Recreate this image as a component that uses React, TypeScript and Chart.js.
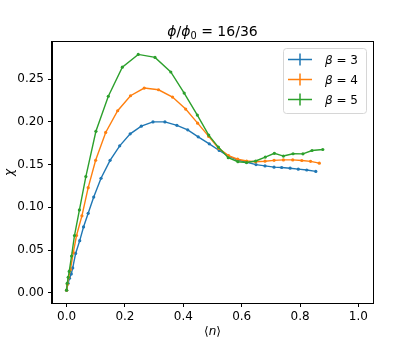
import React, { useEffect, useRef } from 'react';
import { Chart, registerables } from 'chart.js';

Chart.register(...registerables);

// ---- data ----
const beta3X = [0, 0.005, 0.01, 0.016, 0.021, 0.031, 0.045, 0.058, 0.074, 0.093, 0.118, 0.149, 0.182, 0.218, 0.256, 0.296, 0.337, 0.378, 0.415, 0.451, 0.489, 0.523, 0.554, 0.585, 0.615, 0.649, 0.68, 0.711, 0.737, 0.766, 0.794, 0.823, 0.854];
const beta3Y = [0.003, 0.011, 0.017, 0.022, 0.029, 0.046, 0.061, 0.077, 0.093, 0.112, 0.134, 0.155, 0.172, 0.186, 0.195, 0.2, 0.2, 0.196, 0.1907, 0.1825, 0.1743, 0.1665, 0.16, 0.1556, 0.153, 0.15, 0.1485, 0.147, 0.1466, 0.1458, 0.1447, 0.1437, 0.142];

const beta4X = [0, 0.003, 0.007, 0.013, 0.023, 0.034, 0.0525, 0.074, 0.0995, 0.134, 0.175, 0.219, 0.266, 0.315, 0.363, 0.408, 0.449, 0.487, 0.521, 0.555, 0.586, 0.617, 0.648, 0.68, 0.711, 0.743, 0.775, 0.806, 0.836, 0.866];
const beta4Y = [0.003, 0.01, 0.018, 0.027, 0.047, 0.067, 0.09, 0.123, 0.155, 0.1876, 0.213, 0.2306, 0.2396, 0.2376, 0.229, 0.215, 0.1985, 0.183, 0.169, 0.1605, 0.1563, 0.1542, 0.1533, 0.154, 0.155, 0.1555, 0.1555, 0.1548, 0.1538, 0.1517];

const beta5X = [0, 0.002, 0.0055, 0.009, 0.017, 0.027, 0.044, 0.066, 0.1005, 0.143, 0.191, 0.2456, 0.303, 0.357, 0.403, 0.448, 0.487, 0.52, 0.554, 0.587, 0.617, 0.648, 0.681, 0.712, 0.743, 0.776, 0.81, 0.841, 0.878];
const beta5Y = [0.003, 0.011, 0.018, 0.025, 0.043, 0.067, 0.097, 0.136, 0.189, 0.23, 0.264, 0.279, 0.2755, 0.2584, 0.2337, 0.208, 0.1845, 0.1705, 0.158, 0.1534, 0.1524, 0.1542, 0.1588, 0.1632, 0.16, 0.1627, 0.1626, 0.1665, 0.1677];

const betaLabels = ['3', '4', '5'];
const seriesColors = ['#1f77b4', '#ff7f0e', '#2ca02c'];
const xTickValues = [0, 0.2, 0.4, 0.6, 0.8, 1.0];
const yTickValues = [0, 0.05, 0.1, 0.15, 0.2, 0.25];

const FONT = "'DejaVu Sans', sans-serif";

type Seg = { t: string; it?: boolean; sub?: boolean };

function segFont(s: Seg, size: number) {
  return `${s.it ? 'italic ' : ''}${s.sub ? size * 0.7 : size}px ${FONT}`;
}

function richWidth(ctx: CanvasRenderingContext2D, segs: Seg[], size: number) {
  let w = 0;
  for (const s of segs) {
    ctx.font = segFont(s, size);
    w += ctx.measureText(s.t).width;
  }
  return w;
}

function drawRich(ctx: CanvasRenderingContext2D, segs: Seg[], x: number, y: number, size: number, align: 'left' | 'center') {
  const w = richWidth(ctx, segs, size);
  let cx = align === 'center' ? x - w / 2 : x;
  ctx.textAlign = 'left';
  ctx.textBaseline = 'alphabetic';
  for (const s of segs) {
    ctx.font = segFont(s, size);
    ctx.fillText(s.t, cx, s.sub ? y + size * 0.22 : y);
    cx += ctx.measureText(s.t).width;
  }
}

const decorPlugin = {
  id: 'decor',
  afterDraw(chart: any) {
    const ctx: CanvasRenderingContext2D = chart.ctx;
    const a = chart.chartArea;
    ctx.save();
    // frame
    ctx.strokeStyle = '#000';
    ctx.lineWidth = 1;
    ctx.strokeRect(Math.round(a.left) - 0.5, Math.round(a.top) - 0.5, Math.round(a.right - a.left) + 1, Math.round(a.bottom - a.top) + 1);
    ctx.fillStyle = '#000';
    // title
    drawRich(ctx, [
      { t: 'ϕ', it: true }, { t: '/' }, { t: 'ϕ', it: true }, { t: '0', sub: true }, { t: ' = 16/36' },
    ], (a.left + a.right) / 2, 35.5, 14, 'center');
    // x label
    drawRich(ctx, [{ t: '⟨' }, { t: 'n', it: true }, { t: '⟩' }], (a.left + a.right) / 2, 335, 12, 'center');
    // y label
    ctx.save();
    ctx.translate(13, (a.top + a.bottom) / 2);
    ctx.rotate(-Math.PI / 2);
    drawRich(ctx, [{ t: 'χ', it: true }], 0, 0, 12, 'center');
    ctx.restore();
    // legend
    const bx = 283.5, by = 48.5, bw = 83, bh = 65, r = 3;
    ctx.beginPath();
    ctx.moveTo(bx + r, by);
    ctx.lineTo(bx + bw - r, by);
    ctx.quadraticCurveTo(bx + bw, by, bx + bw, by + r);
    ctx.lineTo(bx + bw, by + bh - r);
    ctx.quadraticCurveTo(bx + bw, by + bh, bx + bw - r, by + bh);
    ctx.lineTo(bx + r, by + bh);
    ctx.quadraticCurveTo(bx, by + bh, bx, by + bh - r);
    ctx.lineTo(bx, by + r);
    ctx.quadraticCurveTo(bx, by, bx + r, by);
    ctx.closePath();
    ctx.fillStyle = 'rgba(255,255,255,0.8)';
    ctx.fill();
    ctx.strokeStyle = '#d6d6d6';
    ctx.lineWidth = 1;
    ctx.stroke();
    for (let i = 0; i < betaLabels.length; i++) {
      const cy = 59.5 + i * 20;
      ctx.strokeStyle = seriesColors[i];
      ctx.lineWidth = 1.5;
      ctx.beginPath();
      ctx.moveTo(288, cy);
      ctx.lineTo(312, cy);
      ctx.moveTo(300, cy - 6);
      ctx.lineTo(300, cy + 6);
      ctx.stroke();
      ctx.fillStyle = '#000';
      drawRich(ctx, [{ t: 'β', it: true }, { t: ' = ' + betaLabels[i] }], 325, cy + 4.5, 12, 'left');
    }
    ctx.restore();
  },
};

function toPoints(xs: number[], ys: number[]) {
  return xs.map((x, i) => ({ x, y: ys[i] }));
}

export default function App() {
  const ref = useRef<HTMLCanvasElement | null>(null);
  useEffect(() => {
    if (!ref.current) return;
    const series = [
      toPoints(beta3X, beta3Y),
      toPoints(beta4X, beta4Y),
      toPoints(beta5X, beta5Y),
    ];
    const chart = new Chart(ref.current, {
      type: 'scatter',
      data: {
        datasets: series.map((pts, i) => ({
          label: 'β = ' + betaLabels[i],
          data: pts,
          showLine: true,
          borderColor: seriesColors[i],
          backgroundColor: seriesColors[i],
          borderWidth: 1.4,
          pointRadius: 1.6,
          pointBorderWidth: 0,
          pointHoverRadius: 0,
          order: 2 - i,
        })),
      },
      options: {
        animation: false,
        responsive: false,
        devicePixelRatio: 1,
        events: [],
        layout: { padding: { left: 0, top: 42, right: 42, bottom: 0 } },
        plugins: { legend: { display: false }, title: { display: false }, tooltip: { enabled: false } },
        scales: {
          x: {
            type: 'linear',
            min: -0.05,
            max: 1.05,
            afterBuildTicks: (s: any) => { s.ticks = xTickValues.map((v) => ({ value: v })); },
            afterFit: (s: any) => { s.height = 43; },
            grid: { display: true, drawOnChartArea: false, drawTicks: true, tickLength: 4, color: '#000', tickWidth: 1 },
            border: { display: true, color: '#000', width: 1 },
            ticks: {
              color: '#000', padding: 3, maxRotation: 0, autoSkip: false,
              font: { family: FONT, size: 12 },
              callback: (v: any) => Number(v).toFixed(1),
            },
          },
          y: {
            type: 'linear',
            min: -0.012,
            max: 0.2935,
            afterBuildTicks: (s: any) => { s.ticks = yTickValues.map((v) => ({ value: v })); },
            afterFit: (s: any) => { s.width = 52; },
            grid: { display: true, drawOnChartArea: false, drawTicks: true, tickLength: 4, color: '#000', tickWidth: 1 },
            border: { display: true, color: '#000', width: 1 },
            ticks: {
              color: '#000', padding: 4, autoSkip: false,
              font: { family: FONT, size: 12 },
              callback: (v: any) => Number(v).toFixed(2),
            },
          },
        },
      },
      plugins: [decorPlugin],
    } as any);
    return () => chart.destroy();
  }, []);
  return (
    <div style={{ position: 'fixed', left: 0, top: 0, width: 415, height: 346, background: '#fff' }}>
      <canvas ref={ref} width={415} height={346} style={{ width: 415, height: 346, display: 'block' }} />
    </div>
  );
}
